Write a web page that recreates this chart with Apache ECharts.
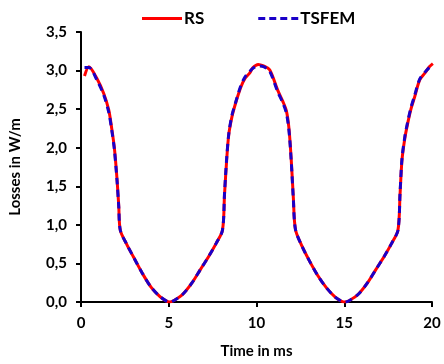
<!DOCTYPE html>
<html><head><meta charset="utf-8">
<script src="https://cdn.jsdelivr.net/npm/echarts@6/dist/echarts.min.js"></script>
<style>html,body{margin:0;padding:0;background:#fff}#c{width:444px;height:364px}</style>
</head><body><div id="c"></div>
<script>
const timeMs = [0.2,0.45,0.9,1.3,1.58,1.75,1.9,2.05,2.15,2.24,2.6,3.0,3.5,4.0,4.5,4.85,5.05,5.3,5.8,6.3,6.8,7.3,7.7,8.06,8.18,8.3,8.42,8.6,8.8,9.1,9.35,9.62,9.8,10.1,10.4,10.75,11.2,11.5,11.7,11.85,11.98,12.1,12.22,12.6,13.0,13.5,14.0,14.5,14.85,15.05,15.3,15.8,16.3,16.8,17.3,17.7,18.06,18.18,18.29,18.45,18.6,18.8,19.0,19.3,19.6,19.85,20.05];
const rsLoss = [2.93,3.05,2.90,2.70,2.49,2.25,2.00,1.60,1.25,0.93,0.75,0.58,0.37,0.19,0.07,0.015,0.00,0.02,0.10,0.24,0.42,0.60,0.76,0.93,1.40,1.84,2.17,2.40,2.57,2.78,2.90,2.97,3.04,3.08,3.06,3.01,2.75,2.60,2.48,2.25,1.84,1.35,0.94,0.72,0.54,0.34,0.18,0.06,0.01,0.00,0.02,0.10,0.24,0.42,0.60,0.76,0.93,1.40,1.84,2.12,2.30,2.50,2.65,2.88,2.97,3.05,3.09];
const tsfemLoss = [3.04,3.04,2.88,2.68,2.46,2.23,1.98,1.58,1.24,0.93,0.75,0.58,0.37,0.19,0.07,0.015,0.00,0.02,0.10,0.24,0.42,0.60,0.76,0.93,1.42,1.86,2.18,2.42,2.58,2.80,2.92,2.99,3.03,3.06,3.05,2.99,2.73,2.58,2.45,2.22,1.82,1.33,0.94,0.72,0.54,0.34,0.18,0.06,0.01,0.00,0.02,0.10,0.24,0.42,0.60,0.76,0.93,1.42,1.86,2.14,2.32,2.52,2.67,2.89,2.98,3.04,3.08];
const seriesNames = ['RS','TSFEM'];
const xTicks = [0,5,10,15,20];
const yTicks = [0,0.5,1,1.5,2,2.5,3,3.5];

const chart = echarts.init(document.getElementById('c'), null, {renderer:'canvas'});
const font = 'Lato';
const zip = (xs, ys) => xs.map((x,i)=>[x, ys[i]]);
const dashIcon = 'path://M0,0h7v3h-7z M11,0h7v3h-7z M22,0h7v3h-7z M33,0h7v3h-7z';
chart.setOption({
  animation:false,
  backgroundColor:'#fff',
  textStyle:{fontFamily:font},
  legend:{
    left:137, top:5, itemWidth:40, itemHeight:3, itemGap:54,
    textStyle:{fontFamily:font, fontWeight:'bold', fontSize:17, color:'#000', padding:[0,0,0,-3]},
    data:[{name:seriesNames[0], icon:'rect'},{name:seriesNames[1], icon:dashIcon}]
  },
  grid:{left:78, right:12, top:32, bottom:62},
  xAxis:{
    type:'value', min:xTicks[0], max:xTicks[xTicks.length-1], interval:5,
    name:'Time in ms', nameLocation:'middle', nameGap:42,
    nameTextStyle:{fontFamily:font, fontWeight:'bold', fontSize:15, color:'#000'},
    axisLine:{lineStyle:{color:'#000', width:2}},
    axisTick:{show:true, length:5, lineStyle:{color:'#000', width:2}},
    axisLabel:{fontFamily:font, fontWeight:'bold', fontSize:15, color:'#000', margin:14},
    splitLine:{show:false}
  },
  yAxis:{
    type:'value', min:yTicks[0], max:yTicks[yTicks.length-1], interval:0.5,
    name:'Losses in W/m', nameLocation:'middle', nameGap:58,
    nameTextStyle:{fontFamily:font, fontWeight:'bold', fontSize:15, color:'#000'},
    axisLine:{show:true, lineStyle:{color:'#000', width:2}},
    axisTick:{show:true, length:5, lineStyle:{color:'#000', width:2}},
    axisLabel:{fontFamily:font, fontWeight:'bold', fontSize:15, color:'#000', margin:14,
      formatter:v=>v.toFixed(1).replace('.', ',')},
    splitLine:{show:false}
  },
  series:[
    {name:seriesNames[0], type:'line', data:zip(timeMs, rsLoss), smooth:0.3, symbol:'none',
      itemStyle:{color:'#ff0000'}, lineStyle:{color:'#ff0000', width:3}},
    {name:seriesNames[1], type:'line', data:zip(timeMs, tsfemLoss), smooth:0.3, symbol:'none',
      itemStyle:{color:'#1a00c8'}, lineStyle:{color:'#1a00c8', width:3, type:[7,5]}}
  ]
});
</script></body></html>
